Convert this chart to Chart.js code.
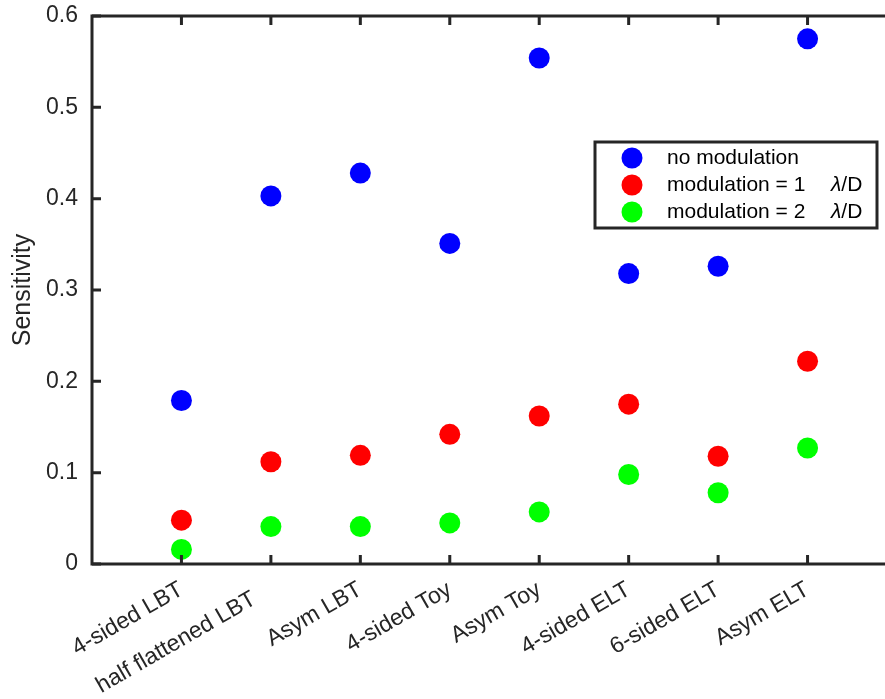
<!DOCTYPE html>
<html>
<head>
<meta charset="utf-8">
<script src="https://cdn.jsdelivr.net/npm/chart.js@4/dist/chart.umd.min.js"></script>
<style>
  html, body { margin: 0; padding: 0; background: #ffffff; overflow: hidden; }
  #frame { position: absolute; left: 0; top: 0; width: 885px; height: 699px; overflow: hidden; }
  #wrap { position: relative; width: 900px; height: 699px; }
  #chart { display: block; }
</style>
</head>
<body>
<div id="frame"><div id="wrap"><canvas id="chart" width="900" height="699"></canvas></div></div>
<script>
// Configurations on the x axis
const categories = [
  '4-sided LBT', 'half flattened LBT   ', 'Asym LBT', '4-sided Toy',
  'Asym Toy', '4-sided ELT', '6-sided ELT', 'Asym ELT'
];

// Sensitivity per configuration
const noModulation = [0.179, 0.403, 0.428, 0.351, 0.554, 0.318, 0.326, 0.575];
const modulation1  = [0.048, 0.112, 0.119, 0.142, 0.162, 0.175, 0.118, 0.222];
const modulation2  = [0.016, 0.041, 0.041, 0.045, 0.057, 0.098, 0.078, 0.127];

const seriesNames = ['no modulation', 'modulation = 1\tλ/D', 'modulation = 2\tλ/D'];
const yTicks = [0, 0.1, 0.2, 0.3, 0.4, 0.5, 0.6];

const AXIS_COLOR = '#262626';
const FONT = '"Liberation Sans", Arial, Helvetica, sans-serif';

const toPoints = arr => arr.map((v, i) => ({ x: i + 1, y: v }));

// Box-style axes with inward tick marks (the right side runs past the visible edge)
const boxAxes = {
  id: 'boxAxes',
  afterDatasetsDraw(chart) {
    const { ctx, chartArea: a, scales: { x, y } } = chart;
    const tl = 9;
    ctx.save();
    ctx.strokeStyle = AXIS_COLOR;
    ctx.lineWidth = 3;
    ctx.lineCap = 'butt';
    ctx.beginPath();
    ctx.rect(a.left, a.top, a.right - a.left, a.bottom - a.top);
    ctx.stroke();
    ctx.beginPath();
    for (let i = 1; i <= categories.length; i++) {
      const px = x.getPixelForValue(i);
      ctx.moveTo(px, a.bottom); ctx.lineTo(px, a.bottom - tl);
      ctx.moveTo(px, a.top);    ctx.lineTo(px, a.top + tl);
    }
    yTicks.forEach(v => {
      const py = y.getPixelForValue(v);
      ctx.moveTo(a.left, py);  ctx.lineTo(a.left + tl, py);
      ctx.moveTo(a.right, py); ctx.lineTo(a.right - tl, py);
    });
    ctx.stroke();
    ctx.restore();
  }
};

// Boxed legend inside the plot
const boxLegend = {
  id: 'boxLegend',
  afterDraw(chart, args, opts) {
    const { ctx } = chart;
    ctx.save();
    ctx.fillStyle = '#ffffff';
    ctx.fillRect(opts.left, opts.top, opts.width, opts.height);
    ctx.strokeStyle = AXIS_COLOR;
    ctx.lineWidth = 3;
    ctx.strokeRect(opts.left, opts.top, opts.width, opts.height);
    chart.data.datasets.forEach((ds, i) => {
      const cy = opts.top + opts.firstRow + i * opts.rowGap;
      ctx.beginPath();
      ctx.fillStyle = ds.backgroundColor;
      ctx.arc(opts.left + opts.markerX, cy, ds.pointRadius, 0, Math.PI * 2);
      ctx.fill();
      const [main, unit] = ds.label.split('\t');
      ctx.fillStyle = '#000000';
      ctx.textBaseline = 'middle';
      ctx.textAlign = 'left';
      ctx.font = '21px ' + FONT;
      ctx.fillText(main, opts.left + opts.textX, cy);
      if (unit) {
        const ux = opts.left + opts.unitX;
        ctx.font = 'italic 21px ' + FONT;
        ctx.fillText(unit[0], ux, cy);
        const w = ctx.measureText(unit[0]).width;
        ctx.font = '21px ' + FONT;
        ctx.fillText(unit.slice(1), ux + w, cy);
      }
    });
    ctx.restore();
  }
};

const colors = ['#0000ff', '#ff0000', '#00ff00'];
const series = [noModulation, modulation1, modulation2];

new Chart(document.getElementById('chart'), {
  type: 'scatter',
  data: {
    datasets: series.map((s, i) => ({
      label: seriesNames[i],
      data: toPoints(s),
      backgroundColor: colors[i],
      borderColor: colors[i],
      borderWidth: 0,
      pointRadius: 10.5,
      pointHoverRadius: 10.5,
      clip: false
    }))
  },
  options: {
    responsive: false,
    animation: false,
    devicePixelRatio: 1,
    layout: { autoPadding: false, padding: { top: 16, right: 3, left: 0, bottom: 0 } },
    plugins: {
      legend: { display: false },
      tooltip: { enabled: false },
      boxLegend: {
        left: 595, top: 142, width: 282, height: 86,
        markerX: 37, textX: 72, unitX: 236, firstRow: 16, rowGap: 27
      }
    },
    scales: {
      x: {
        type: 'linear',
        min: 0, max: 9,
        grid: { display: false, drawTicks: false },
        border: { display: false },
        afterFit(scale) {
          scale.height = 135;
          scale.paddingLeft = 0; scale.paddingRight = 0;
          scale.paddingTop = 0; scale.paddingBottom = 0;
        },
        afterBuildTicks(scale) {
          scale.ticks = categories.map((c, i) => ({ value: i + 1 }));
        },
        ticks: {
          autoSkip: false,
          minRotation: 30,
          maxRotation: 30,
          padding: 12,
          color: AXIS_COLOR,
          font: { family: FONT, size: 23 },
          callback: v => categories[v - 1] ?? ''
        }
      },
      y: {
        min: 0, max: 0.6,
        grid: { display: false, drawTicks: false },
        border: { display: false },
        afterFit(scale) {
          scale.width = 92;
          scale.paddingLeft = 0; scale.paddingRight = 0;
          scale.paddingTop = 0; scale.paddingBottom = 0;
        },
        afterBuildTicks(scale) {
          scale.ticks = yTicks.map(v => ({ value: v }));
        },
        ticks: {
          padding: 14,
          color: AXIS_COLOR,
          font: { family: FONT, size: 23 },
          callback: v => (v === 0 ? '0' : v.toFixed(1))
        },
        title: {
          display: true,
          text: 'Sensitivity',
          color: AXIS_COLOR,
          font: { family: FONT, size: 25 },
          padding: { top: 8, bottom: 0 }
        }
      }
    }
  },
  plugins: [boxAxes, boxLegend]
});
</script>
</body>
</html>
